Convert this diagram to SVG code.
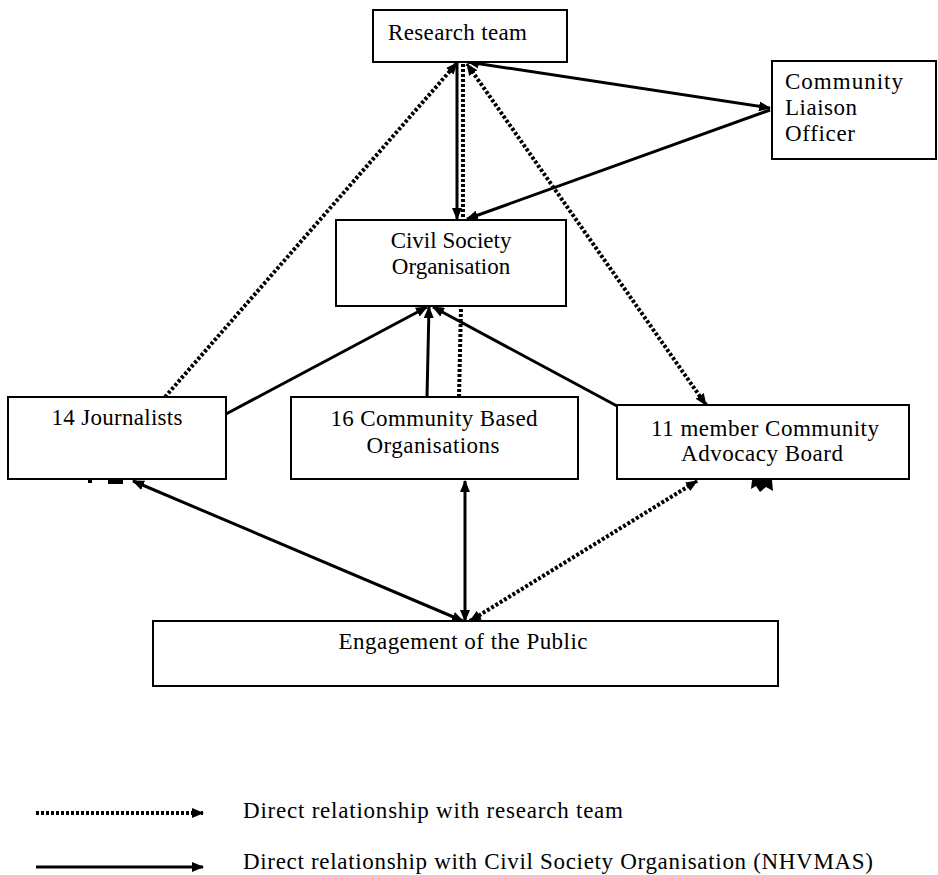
<svg xmlns="http://www.w3.org/2000/svg" width="938" height="875" viewBox="0 0 938 875">
<defs>
<marker id="ah" viewBox="0 0 12 10" refX="11" refY="5" markerWidth="12" markerHeight="10" markerUnits="userSpaceOnUse" orient="auto-start-reverse">
<path d="M0,0 L12,5 L0,10 z" fill="#000"/>
</marker>
</defs>
<style>
.box{fill:#fff;stroke:#000;stroke-width:2}
.t{font-family:"Liberation Serif","Times New Roman",serif;font-size:23px;fill:#000}
.c{text-anchor:middle}
.s{stroke:#000;stroke-width:3;fill:none}
.d{stroke:#000;stroke-width:4;fill:none;stroke-dasharray:3 2}
</style>
<rect width="938" height="875" fill="#fff"/>
<g id="connectors">
<line class="s" x1="468" y1="62" x2="770" y2="108" marker-start="url(#ah)" marker-end="url(#ah)"/>
<line class="s" x1="770" y1="110" x2="467" y2="219" marker-end="url(#ah)"/>
<line class="s" x1="457" y1="62" x2="457" y2="219" marker-end="url(#ah)"/>
<line class="d" x1="463" y1="64" x2="463" y2="219"/>
<line class="s" x1="226" y1="414" x2="427" y2="307" marker-end="url(#ah)"/>
<line class="s" x1="427" y1="397" x2="429" y2="307" marker-end="url(#ah)"/>
<line class="d" x1="459" y1="397" x2="461" y2="307"/>
<line class="s" x1="617" y1="406" x2="433" y2="307" marker-end="url(#ah)"/>
<line class="d" x1="165" y1="397" x2="457" y2="63" marker-end="url(#ah)"/>
<line class="d" x1="706" y1="405" x2="467" y2="64" marker-start="url(#ah)" marker-end="url(#ah)"/>
<line class="s" x1="463" y1="621" x2="133" y2="481" marker-start="url(#ah)" marker-end="url(#ah)"/>
<line class="s" x1="465" y1="621" x2="465" y2="481" marker-start="url(#ah)" marker-end="url(#ah)"/>
<line class="d" x1="470" y1="621" x2="697" y2="481" marker-start="url(#ah)" marker-end="url(#ah)"/>
<rect x="88" y="480" width="4" height="3" fill="#000"/>
<rect x="108" y="480" width="15" height="4" fill="#000"/>
<polygon points="752,480 772,480 773,491 766,487 760,492 756,486 751,489" fill="#000"/>
</g>
<g id="research-team">
<rect class="box" x="373" y="10" width="194" height="52"/>
<text class="t" x="388" y="40" textLength="139" lengthAdjust="spacing">Research team</text>
</g>
<g id="community-liaison-officer">
<rect class="box" x="772" y="61" width="164" height="98"/>
<text class="t" x="785" y="89" textLength="118" lengthAdjust="spacing">Community</text>
<text class="t" x="785" y="115" textLength="72" lengthAdjust="spacing">Liaison</text>
<text class="t" x="785" y="141" textLength="70" lengthAdjust="spacing">Officer</text>
</g>
<g id="civil-society-organisation">
<rect class="box" x="336" y="220" width="230" height="86"/>
<text class="t c" x="451" y="248">Civil Society</text>
<text class="t c" x="451" y="274">Organisation</text>
</g>
<g id="journalists">
<rect class="box" x="8" y="397" width="218" height="82"/>
<text class="t c" x="117" y="425" textLength="131" lengthAdjust="spacing">14 Journalists</text>
</g>
<g id="community-based-organisations">
<rect class="box" x="291" y="397" width="287" height="82"/>
<text class="t c" x="434" y="426" textLength="207" lengthAdjust="spacing">16 Community Based</text>
<text class="t c" x="433" y="453" textLength="133" lengthAdjust="spacing">Organisations</text>
</g>
<g id="community-advocacy-board">
<rect class="box" x="617" y="405" width="292" height="74"/>
<text class="t c" x="765" y="436" textLength="228" lengthAdjust="spacing">11 member Community</text>
<text class="t c" x="762" y="461" textLength="162" lengthAdjust="spacing">Advocacy Board</text>
</g>
<g id="engagement-of-the-public">
<rect class="box" x="153" y="621" width="625" height="65"/>
<text class="t c" x="463" y="649" textLength="249" lengthAdjust="spacing">Engagement of the Public</text>
</g>
<g id="legend">
<line class="d" x1="36" y1="813" x2="203" y2="813" marker-end="url(#ah)"/>
<text class="t" x="243" y="818" textLength="380" lengthAdjust="spacing">Direct relationship with research team</text>
<line class="s" x1="36" y1="867" x2="203" y2="867" marker-end="url(#ah)"/>
<text class="t" x="243" y="869" textLength="630" lengthAdjust="spacing">Direct relationship with Civil Society Organisation (NHVMAS)</text>
</g>
</svg>
